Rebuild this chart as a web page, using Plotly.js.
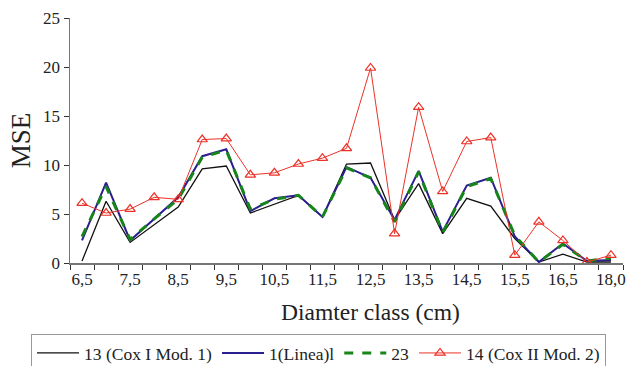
<!DOCTYPE html>
<html>
<head>
<meta charset="utf-8">
<script src="https://cdn.plot.ly/plotly-3.0.1.min.js"></script>
<style>html,body{margin:0;padding:0;background:#fff;}#chart{width:627px;height:366px;}</style>
</head>
<body>
<div id="chart"></div>
<script>
const categories = ["6,5","7","7,5","8","8,5","9","9,5","10","10,5","11","11,5","12","12,5","13","13,5","14","14,5","15","15,5","16","16,5","17","18,0"];
const coxI    = [0.2,6.3,2.1,3.9,5.7,9.6,9.9,5.1,6.0,6.9,4.7,10.1,10.2,4.4,8.1,3.0,6.6,5.8,2.5,0.1,0.9,0.1,0.1];
const linear  = [2.3,8.2,2.3,4.5,6.7,10.9,11.6,5.3,6.6,6.9,4.7,9.8,8.7,4.4,9.4,3.2,7.9,8.7,2.7,0.1,2.0,0.2,0.3];
const s23     = [2.7,7.8,2.4,4.5,6.5,10.8,11.5,5.5,6.5,6.9,4.7,9.7,8.7,4.2,9.3,3.1,7.8,8.6,2.8,0.1,1.9,0.2,0.5];
const coxII   = [6.1,5.1,5.5,6.7,6.5,12.6,12.7,9.0,9.2,10.1,10.7,11.7,19.9,3.0,15.9,7.3,12.4,12.8,0.8,4.2,2.3,0.1,0.8];
const seriesNames = ["13 (Cox I Mod. 1)","1(Linea)l","23","14 (Cox II Mod. 2)"];
const xTitle = "Diamter class (cm)";
const yTitle = "MSE";

const xi = categories.map((c,i)=>i);
const labelIdx = xi.filter(i=>i%2===0);
const font = "Liberation Serif";

const traces = [
  {x:xi, y:coxI, name:seriesNames[0], mode:"lines", line:{color:"#111111", width:1.3}},
  {x:xi, y:linear, name:seriesNames[1], mode:"lines", line:{color:"#2b1f8f", width:2}},
  {x:xi, y:s23, name:seriesNames[2], mode:"lines", line:{color:"#17861a", width:3, dash:"dash"}},
  {x:xi, y:coxII, name:seriesNames[3], mode:"lines+markers", line:{color:"#ec3228", width:1},
   marker:{symbol:"triangle-up-open", size:9, color:"#ec3228", line:{width:1.2}}}
];

const layout = {
  width:627, height:366,
  margin:{l:70, r:4, t:18, b:103, autoexpand:false},
  paper_bgcolor:"#ffffff", plot_bgcolor:"#ffffff",
  font:{family:font, size:17, color:"#222"},
  showlegend:true,
  legend:{orientation:"h", x:-0.0705, xanchor:"left", y:-0.29, yanchor:"top",
    bordercolor:"#999", borderwidth:1, font:{family:font, size:17.5, color:"#222"},
    itemwidth:42, tracegroupgap:0},
  xaxis:{range:[-0.5, categories.length-0.5], tickmode:"array", automargin:false,
    tickvals:labelIdx, ticktext:labelIdx.map(i=>categories[i]),
    ticks:"", showgrid:false, zeroline:false,
    showline:true, linecolor:"#777", linewidth:1.5,
    tickfont:{family:font, size:17, color:"#222"},
    minor:{tick0:-0.5, dtick:1, ticks:"outside", ticklen:5, tickcolor:"#333", tickwidth:1}},
  yaxis:{range:[0,25], tickvals:[0,5,10,15,20,25], ticks:"outside", ticklen:5, tickcolor:"#333", automargin:false,
    showgrid:false, zeroline:false, showline:true, linecolor:"#777", linewidth:1.5,
    tickfont:{family:font, size:17, color:"#222"},
    title:{text:yTitle, font:{family:font, size:27, color:"#222"}, standoff:4}},
  annotations:[{text:xTitle, xref:"paper", yref:"paper", x:0.5425, y:-0.2, xanchor:"center", yanchor:"middle",
    showarrow:false, font:{family:font, size:23.5, color:"#222"}}]
};

Plotly.newPlot("chart", traces, layout, {displayModeBar:false, staticPlot:true});
</script>
</body>
</html>
